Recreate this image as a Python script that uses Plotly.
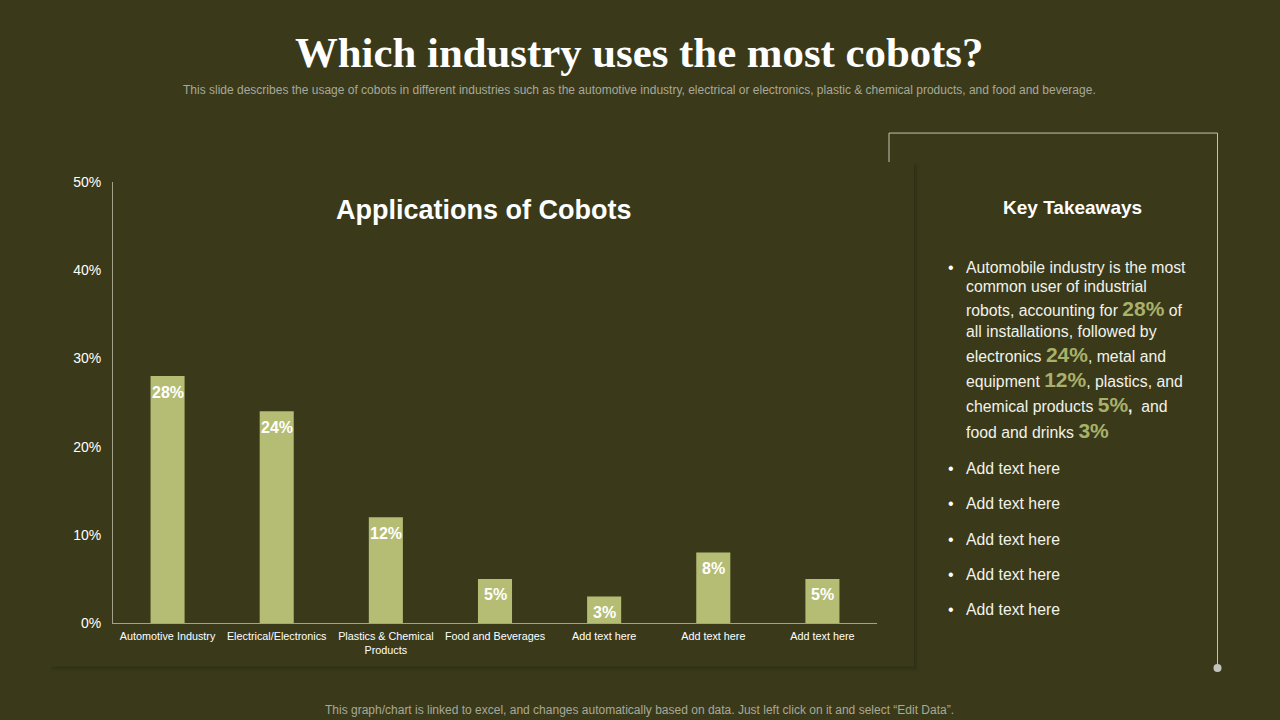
import plotly.graph_objects as go

categories = ["Automotive Industry", "Electrical/Electronics", "Plastics & Chemical<br>Products",
              "Food and Beverages", "Add text here", "Add text here", "Add text here"]
values = [28, 24, 12, 5, 3, 8, 5]
value_labels = ["28%", "24%", "12%", "5%", "3%", "8%", "5%"]
y_ticks = [0, 10, 20, 30, 40, 50]
y_tick_labels = ["0%", "10%", "20%", "30%", "40%", "50%"]

title = "Which industry uses the most cobots?"
subtitle = ("This slide describes the usage of cobots in different industries such as the automotive industry, "
            "electrical or electronics, plastic & chemical products, and food and beverage.")
footer = ("This graph/chart is linked to excel, and changes automatically based on data. "
          "Just left click on it and select \u201cEdit Data\u201d.")
chart_title = "Applications of Cobots"
panel_title = "Key Takeaways"

BG = "#3a3a1b"
BAR = "#b5bd75"
HI = "#a9b06a"
W, H = 1280, 720
# plot area on the page, in pixels
LEFT, RIGHT, TOP, BOTTOM = 113, 877, 182, 623.5


def hi(t, size=21):
    return f'<span style="color:{HI};font-size:{size}px"><b>{t}</b></span>'


# first bullet, one entry per line: text and y centre in pixels
takeaway_lines = [
    ("Automobile industry is the most", 268),
    ("common user of industrial", 287),
    (f"robots, accounting for {hi('28%')} of", 309),
    ("all installations, followed by", 332),
    (f"electronics {hi('24%')}, metal and", 355),
    (f"equipment {hi('12%')}, plastics, and", 380),
    (f"chemical products {hi('5%')}<b>,</b>  and", 405),
    (f"food and drinks {hi('3%')}", 431),
]
add_text_y = [469, 504, 540, 575, 610]


def px(x):
    return (x - LEFT) / (RIGHT - LEFT)


def py(y):
    return (BOTTOM - y) / (BOTTOM - TOP)


def text(s, x, y, size, color="#ffffff", anchor="left", family="Liberation Sans"):
    return dict(text=s, x=px(x), y=py(y), xref="paper", yref="paper", xanchor=anchor, yanchor="middle",
                showarrow=False, font=dict(family=family, size=size, color=color), align=anchor,
                borderpad=0, borderwidth=0)


xs = list(range(len(categories)))
fig = go.Figure(go.Bar(
    x=xs, y=values, marker=dict(color=BAR, line=dict(width=0)), width=0.312, hoverinfo="skip",
))

annotations = [
    text(f"<b>{title}</b>", 639, 52, 42.8, anchor="center", family="Liberation Serif"),
    text(subtitle, 639, 90, 12, color="#a8a898", anchor="center"),
    text(footer, 639, 710.5, 12, color="#a8a898", anchor="center"),
    text(f"<b>{chart_title}</b>", 483, 210, 27, anchor="center"),
    text(f"<b>{panel_title}</b>", 1072, 208, 19, anchor="center"),
    text("\u2022", 948, 268, 16),
]
for line, y in takeaway_lines:
    annotations.append(text(line, 966, y, 15.8, color="#f2f2ea"))
for y in add_text_y:
    annotations.append(text("\u2022", 948, y, 16))
    annotations.append(text("Add text here", 966, y, 15.8, color="#f2f2ea"))
# value labels sit inside the top of each bar
for x, v, lab in zip(xs, values, value_labels):
    annotations.append(dict(text=f"<b>{lab}</b>", x=x, y=v, xref="x", yref="y", yshift=-16, showarrow=False,
                            xanchor="center", yanchor="middle", borderpad=0,
                            font=dict(family="Liberation Sans", size=16, color="#ffffff")))

# soft shadow behind the chart panel, then the frame around the takeaways
shapes = []
for grow, op in [(5, 0.10), (3, 0.14), (1, 0.2)]:
    shapes.append(dict(type="rect", xref="paper", yref="paper", layer="below",
                       x0=px(55 - grow), x1=px(914 + grow), y0=py(667 + grow), y1=py(168 - grow),
                       fillcolor="#1f1f0c", opacity=op, line_width=0))
shapes.append(dict(type="rect", xref="paper", yref="paper", layer="below",
                   x0=px(50), x1=px(914), y0=py(667), y1=py(163), fillcolor=BG, line_width=0))
frame = f"M {px(889)} {py(162)} L {px(889)} {py(133)} L {px(1217.5)} {py(133)} L {px(1217.5)} {py(668)}"
shapes.append(dict(type="path", xref="paper", yref="paper", path=frame, line=dict(color="#c4c4b4", width=1)))
shapes.append(dict(type="circle", xref="paper", yref="paper", x0=px(1213.5), x1=px(1221.5), y0=py(672.5), y1=py(664.5),
                   fillcolor="#c4c4bc", line_width=0))

fig.update_layout(
    width=W, height=H, autosize=False,
    margin=dict(l=LEFT, r=W - RIGHT, t=TOP, b=H - BOTTOM, pad=0),
    paper_bgcolor=BG, plot_bgcolor="rgba(0,0,0,0)", showlegend=False,
    annotations=annotations, shapes=shapes,
    xaxis=dict(range=[-0.5, 6.5], tickmode="array", tickvals=xs, ticktext=categories, tickangle=0,
               tickfont=dict(family="Liberation Sans", size=10.8, color="#ffffff"), automargin=False,
               showgrid=False, zeroline=False, showline=True, linecolor="#a3a38c", linewidth=1,
               ticks="outside", ticklen=3, tickcolor="rgba(0,0,0,0)"),
    yaxis=dict(range=[0, 50], tickmode="array", tickvals=y_ticks, ticktext=y_tick_labels, automargin=False,
               tickfont=dict(family="Liberation Sans", size=14, color="#ffffff"),
               showgrid=False, zeroline=False, showline=True, linecolor="#a3a38c", linewidth=1,
               ticks="", ticklabelstandoff=8),
)

fig.write_html("out.html", post_script="document.body.style.margin='0';document.body.style.overflow='hidden';",
               config=dict(displayModeBar=False))
